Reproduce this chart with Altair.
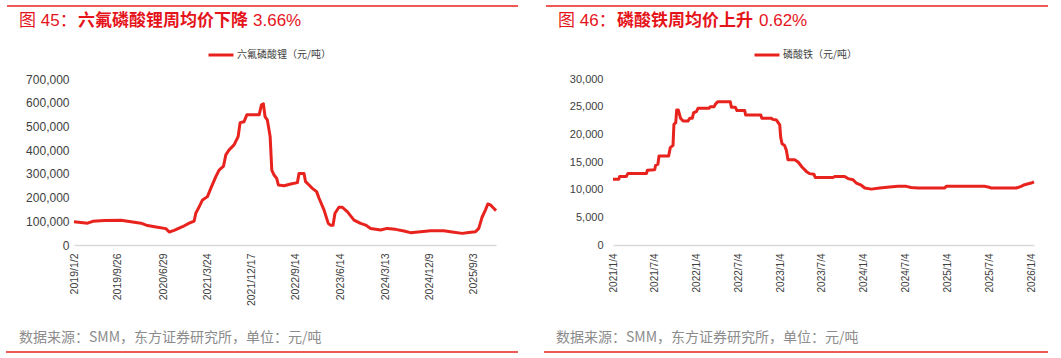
import altair as alt
import pandas as pd

# ---------------- data ----------------
lipf6_dates = [
    "2019-01-02", "2019-03-26", "2019-04-26", "2019-07-06", "2019-10-15",
    "2019-11-25", "2020-02-14", "2020-03-25", "2020-05-25", "2020-07-15",
    "2020-08-04", "2020-09-03", "2020-10-24", "2020-12-04", "2021-01-03",
    "2021-01-13", "2021-02-03", "2021-02-23", "2021-03-25", "2021-04-15",
    "2021-05-15", "2021-06-04", "2021-07-01", "2021-07-15", "2021-08-04",
    "2021-09-03", "2021-09-28", "2021-10-10", "2021-11-03", "2021-11-20",
    "2022-02-03", "2022-02-17", "2022-03-01", "2022-03-11", "2022-03-25",
    "2022-04-11", "2022-04-21", "2022-05-05", "2022-05-21", "2022-05-31",
    "2022-07-05", "2022-08-14", "2022-09-24", "2022-10-04", "2022-11-03",
    "2022-11-13", "2022-12-04", "2022-12-24", "2023-01-19", "2023-02-03",
    "2023-03-05", "2023-03-31", "2023-04-15", "2023-04-29", "2023-05-11",
    "2023-06-04", "2023-06-25", "2023-07-25", "2023-09-04", "2023-10-14",
    "2023-11-14", "2023-12-14", "2024-02-13", "2024-03-24", "2024-05-14",
    "2024-07-04", "2024-08-13", "2024-10-13", "2024-12-13", "2025-03-04",
    "2025-04-24", "2025-06-24", "2025-08-03", "2025-09-13", "2025-10-03",
    "2025-10-23", "2025-11-13", "2025-11-27", "2025-12-13", "2026-01-02",
    "2026-01-16",
]
lipf6_values = [
    98000, 92000, 100000, 103000, 104000,
    100000, 92000, 82000, 75000, 69000,
    55000, 62000, 77000, 92000, 101000,
    134000, 162000, 190000, 204000, 240000,
    288000, 316000, 333000, 380000, 401000,
    422000, 457000, 516000, 520000, 549000,
    549000, 591000, 595000, 541000, 527000,
    457000, 316000, 295000, 281000, 253000,
    250000, 257000, 263000, 302000, 302000,
    267000, 253000, 239000, 225000, 197000,
    148000, 91000, 83000, 83000, 134000,
    159000, 159000, 141000, 105000, 91000,
    84000, 70000, 63000, 70000, 66000,
    59000, 52000, 56000, 60000, 60000,
    55000, 49000, 53000, 56000, 70000,
    117000, 148000, 173000, 169000, 155000,
    145000,
]
lipf6_ticks = ["2019-01-02", "2019-09-26", "2020-06-29", "2021-03-24", "2021-12-17",
               "2022-09-14", "2023-06-14", "2024-03-13", "2024-12-09", "2025-09-03"]

lfp_dates = [
    "2021-01-04", "2021-01-29", "2021-02-02", "2021-03-03", "2021-03-10",
    "2021-05-30", "2021-06-03", "2021-07-05", "2021-07-09", "2021-07-19",
    "2021-07-24", "2021-09-04", "2021-09-11", "2021-09-23", "2021-09-27",
    "2021-10-05", "2021-10-09", "2021-10-16", "2021-10-26", "2021-11-06",
    "2021-11-27", "2021-12-05", "2021-12-16", "2021-12-22", "2022-01-03",
    "2022-01-10", "2022-02-27", "2022-03-05", "2022-03-21", "2022-03-28",
    "2022-04-07", "2022-05-31", "2022-06-05", "2022-06-22", "2022-06-29",
    "2022-08-02", "2022-08-06", "2022-10-11", "2022-10-16", "2022-11-26",
    "2022-12-03", "2022-12-18", "2023-01-02", "2023-01-06", "2023-01-12",
    "2023-01-23", "2023-01-31", "2023-02-07", "2023-03-08", "2023-03-23",
    "2023-04-09", "2023-04-28", "2023-05-12", "2023-05-31", "2023-06-06",
    "2023-08-22", "2023-09-01", "2023-10-12", "2023-10-27", "2023-11-18",
    "2023-12-02", "2023-12-24", "2024-01-08", "2024-02-06", "2024-03-13",
    "2024-04-26", "2024-06-01", "2024-07-07", "2024-07-29", "2024-08-27",
    "2024-12-22", "2024-12-29", "2025-06-14", "2025-06-29", "2025-07-13",
    "2025-10-31", "2025-11-21", "2025-12-06", "2026-01-04", "2026-01-16",
]
lfp_values = [
    11900, 11900, 12400, 12400, 12900,
    12900, 13500, 13600, 14400, 14600,
    16100, 16100, 17600, 18000, 21800,
    22100, 24400, 24400, 22900, 22400,
    22400, 22900, 22900, 23900, 24100,
    24700, 24700, 25000, 25000, 25500,
    25900, 25900, 24900, 24900, 24300,
    24300, 23500, 23500, 22900, 22900,
    22700, 22600, 21700, 19500, 18300,
    18000, 17100, 15400, 15400, 15000,
    14100, 13300, 12900, 12800, 12200,
    12200, 12400, 12400, 12000, 11800,
    11200, 10800, 10300, 10100, 10300,
    10500, 10600, 10600, 10400, 10300,
    10300, 10600, 10600, 10500, 10300,
    10300, 10600, 10900, 11200, 11400,
]
lfp_ticks = ["2021-01-04", "2021-07-04", "2022-01-04", "2022-07-04", "2023-01-04",
             "2023-07-04", "2024-01-04", "2024-07-04", "2025-01-04", "2025-07-04",
             "2026-01-04"]

RED = "#e8231e"
TITLE_RED = "#e5141b"
FONT = "Liberation Sans, Noto Sans CJK SC"
CJK = "Noto Sans CJK SC, Liberation Sans"
FOOTER = "数据来源：SMM，东方证券研究所，单位：元/吨"


def dt(s):
    y, m, d = (int(v) for v in s.split("-"))
    return alt.DateTime(year=y, month=m, date=d, utc=True)


def text_layer(txt, x, y, size, color, weight="normal", font=CJK):
    return alt.Chart(pd.DataFrame({"t": [txt]})).mark_text(
        align="left", baseline="middle", fontSize=size, fontWeight=weight,
        color=color, font=font
    ).encode(x=alt.value(x), y=alt.value(y), text="t:N")


def rule_layer(x1, x2, y, color, width):
    return alt.Chart(pd.DataFrame({"k": [0]})).mark_rule(
        color=color, strokeWidth=width
    ).encode(x=alt.value(x1), x2=alt.value(x2), y=alt.value(y))


def panel(dates, values, name, ticks, x_end, y_max, y_step, y_size, y_pad, x_size,
          legend_x, t_num, t_bold, t_pct, pct_x, footer_x, top_rule, bottom_rule, width):
    df = pd.DataFrame({"date": dates, "value": values, "series": name})
    line = alt.Chart(df).mark_line(strokeWidth=3, strokeJoin="round").encode(
        x=alt.X(
            "date:T",
            scale=alt.Scale(type="utc", domain=[dt(dates[0]), dt(x_end)]),
            axis=alt.Axis(
                values=[dt(t) for t in ticks],
                labelExpr="utcFormat(datum.value, '%Y/%-m/%-d')",
                labelAngle=-90, grid=False, ticks=False, tickSize=0, labelPadding=8,
                domainColor="#d9d9d9", domainWidth=1.5, labelFontSize=x_size,
                labelColor="#404040", labelFont=FONT, title=None,
            ),
        ),
        y=alt.Y(
            "value:Q",
            scale=alt.Scale(domain=[0, y_max], nice=False),
            axis=alt.Axis(
                values=list(range(0, y_max + 1, y_step)), format=",.0f", grid=False,
                domain=False, ticks=False, labelPadding=y_pad, labelFontSize=y_size,
                labelColor="#404040", labelFont=FONT, title=None,
            ),
        ),
        color=alt.Color(
            "series:N",
            scale=alt.Scale(range=[RED]),
            legend=alt.Legend(
                orient="none", legendX=legend_x, legendY=-38, title=None,
                symbolType="stroke", symbolSize=625, symbolStrokeWidth=3,
                labelFontSize=10, labelColor="#404040", labelFont=CJK,
                padding=0, labelOffset=2,
            ),
        ),
    )
    decos = [
        rule_layer(top_rule[0], top_rule[1], -73, RED, 1.5),
        rule_layer(bottom_rule[0], bottom_rule[1], 273, RED, 1.5),
        text_layer(t_num, -55, -58, 17, TITLE_RED, "normal", FONT),
        text_layer(t_bold, 4, -58, 17, TITLE_RED, "bold", CJK),
        text_layer(t_pct, pct_x, -58, 17, TITLE_RED, "normal", FONT),
        text_layer(FOOTER, footer_x, 259, 14, "#8c8c8c", "normal", CJK),
    ]
    return alt.layer(line, *decos).properties(width=width, height=166)


left = panel(lipf6_dates, lipf6_values, "六氟磷酸锂（元/吨）", lipf6_ticks, "2026-01-16",
             700000, 100000, 12, 5, 10.5, 133,
             "图 45：", "六氟磷酸锂周均价下降", "3.66%", 179, -55,
             (-67, 444), (-68, 444), 422)
right = panel(lfp_dates, lfp_values, "磷酸铁（元/吨）", lfp_ticks, "2026-01-16",
              30000, 5000, 11, 10, 10, 140,
              "图 46：", "磷酸铁周均价上升", "0.62%", 146, -57,
              (-67, 435), (-69, 435), 421)

chart = alt.hconcat(left, right, spacing=117, bounds="flush").resolve_scale(
    color="independent"
).resolve_legend(color="independent").properties(
    padding={"left": 5, "top": 5, "right": 5, "bottom": 5}
).configure_view(stroke=None)

chart.save("out.html", embed_options={"renderer": "svg", "actions": False})
